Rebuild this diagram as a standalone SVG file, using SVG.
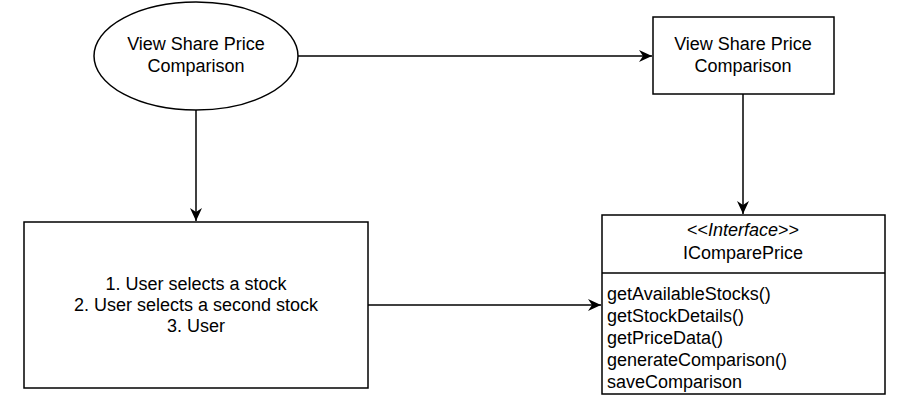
<svg xmlns="http://www.w3.org/2000/svg" width="903" height="403" viewBox="0 0 903 403">
<style>
.shape{fill:#fff;stroke:#000;stroke-width:1.5}
.edge{fill:none;stroke:#000;stroke-width:1.5}
text{font-family:"Liberation Sans",Arial,sans-serif;font-size:18px;fill:#000}
.c{text-anchor:middle}
</style>
<defs>
<marker id="arr" viewBox="0 0 13 12" refX="13" refY="6" markerWidth="13" markerHeight="12" markerUnits="userSpaceOnUse" orient="auto">
<path d="M0,0 L13,6 L0,12 L4,6 Z" fill="#000"/>
</marker>
</defs>
<rect width="903" height="403" fill="#fff"/>
<g id="connectors">
<line class="edge" x1="298" y1="56" x2="652" y2="56" marker-end="url(#arr)"/>
<line class="edge" x1="196" y1="110" x2="196" y2="221" marker-end="url(#arr)"/>
<line class="edge" x1="743" y1="94" x2="743" y2="214" marker-end="url(#arr)"/>
<line class="edge" x1="368" y1="305" x2="601" y2="305" marker-end="url(#arr)"/>
</g>
<g id="usecase">
<ellipse class="shape" cx="196" cy="56" rx="102" ry="54"/>
<text class="c" x="196" y="50">View Share Price</text>
<text class="c" x="196" y="72">Comparison</text>
</g>
<g id="view-box">
<rect class="shape" x="653" y="17" width="181" height="77"/>
<text class="c" x="743" y="50">View Share Price</text>
<text class="c" x="743" y="72">Comparison</text>
</g>
<g id="steps">
<rect class="shape" x="24" y="222" width="344" height="166"/>
<text class="c" x="196" y="290">1. User selects a stock</text>
<text class="c" x="196" y="311">2. User selects a second stock</text>
<text class="c" x="196" y="332">3. User</text>
</g>
<g id="interface">
<rect class="shape" x="602" y="215" width="283" height="179"/>
<line class="shape" x1="602" y1="273" x2="885" y2="273"/>
<text class="c" x="743" y="236">&lt;&lt;<tspan font-style="italic">Interface</tspan>&gt;&gt;</text>
<text class="c" x="743" y="259">IComparePrice</text>
<text x="607" y="300">getAvailableStocks()</text>
<text x="607" y="322">getStockDetails()</text>
<text x="607" y="344">getPriceData()</text>
<text x="607" y="366">generateComparison()</text>
<text x="607" y="388">saveComparison</text>
</g>
</svg>
